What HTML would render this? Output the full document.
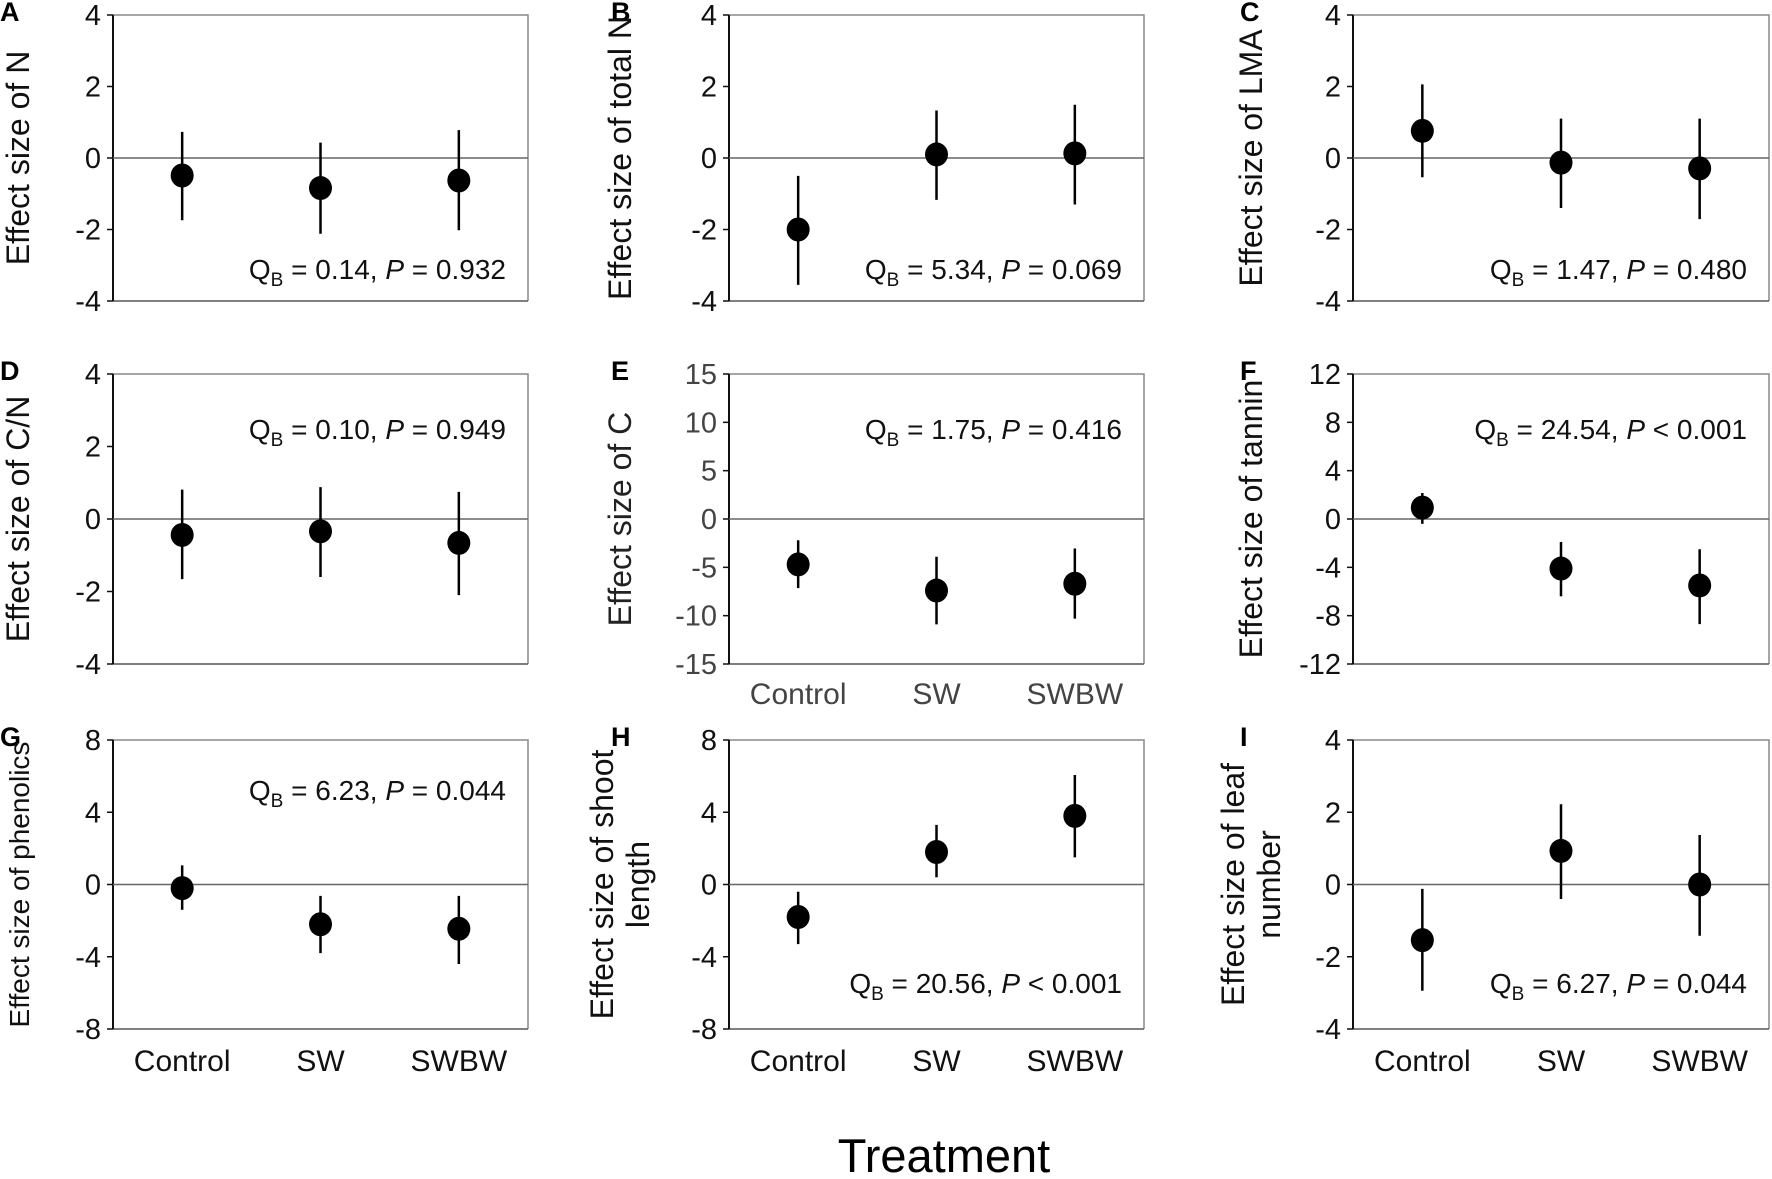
<!DOCTYPE html>
<html><head><meta charset="utf-8">
<style>
html,body{margin:0;padding:0;background:#fff;}
svg{display:block;font-family:"Liberation Sans",Arial,sans-serif;}
</style></head>
<body>
<svg id="fig" width="1772" height="1179" viewBox="0 0 1772 1179" xmlns="http://www.w3.org/2000/svg">
<text x="944" y="1172" font-size="47" text-anchor="middle">Treatment</text>
</svg>
<script>
const categories = ["Control","SW","SWBW"];
const panelIds = ["A","B","C","D","E","F","G","H","I"];
const titles = [["Effect size of N"],["Effect size of total N"],["Effect size of LMA"],["Effect size of C/N"],["Effect size of C"],["Effect size of tannin"],["Effect size of phenolics"],["Effect size of shoot","length"],["Effect size of leaf","number"]];
const tickSets = [[4,2,0,-2,-4],[4,2,0,-2,-4],[4,2,0,-2,-4],[4,2,0,-2,-4],[15,10,5,0,-5,-10,-15],[12,8,4,0,-4,-8,-12],[8,4,0,-4,-8],[8,4,0,-4,-8],[4,2,0,-2,-4]];
const means = [[-0.49,-0.84,-0.63],[-2.0,0.1,0.13],[0.76,-0.13,-0.29],[-0.44,-0.34,-0.66],[-4.7,-7.4,-6.7],[0.94,-4.1,-5.5],[-0.2,-2.2,-2.45],[-1.8,1.8,3.8],[-1.54,0.93,0.0]];
const upper = [[0.73,0.43,0.78],[-0.5,1.33,1.49],[2.06,1.1,1.1],[0.81,0.88,0.75],[-2.2,-3.9,-3.05],[2.15,-1.9,-2.5],[1.06,-0.63,-0.63],[-0.4,3.3,6.06],[-0.12,2.22,1.37]];
const lower = [[-1.74,-2.12,-2.02],[-3.55,-1.17,-1.3],[-0.54,-1.4,-1.71],[-1.66,-1.6,-2.1],[-7.15,-10.9,-10.3],[-0.4,-6.4,-8.7],[-1.4,-3.8,-4.4],[-3.3,0.4,1.5],[-2.94,-0.4,-1.42]];
const qbValues = ["0.14","5.34","1.47","0.10","1.75","24.54","6.23","20.56","6.27"];
const pValues = ["= 0.932","= 0.069","= 0.480","= 0.949","= 0.416","< 0.001","= 0.044","< 0.001","= 0.044"];

const NS="http://www.w3.org/2000/svg";
const svg=document.getElementById('fig');
const colX=[[113,528],[729,1144],[1353,1769]];
const rowY=[[15,301],[374,664],[740,1029]];
const titleX=[18,620,1251];
const letterX=[0,611,1240];
const annotYs=[279,279,279,439,439,439,800,993,993];
const titleSize=[32,32,32,32,32,32,28,32,32];
function mk(tag,attrs,parent){const e=document.createElementNS(NS,tag);for(const k in attrs)e.setAttribute(k,attrs[k]);(parent||svg).appendChild(e);return e;}

panelIds.forEach((id,p)=>{
  const r=Math.floor(p/3), c=p%3;
  const [x0,x1]=colX[c], [y0,y1]=rowY[r];
  const ticks=tickSets[p];
  const tmax=ticks[0], tmin=ticks[ticks.length-1];
  const yS=v=>y0+(tmax-v)/(tmax-tmin)*(y1-y0);
  const xS=i=>x0+(x1-x0)*(1+2*i)/6;
  const grey=(p===4);
  const g=mk('g',{});
  
  
  const lt=mk('text',{x:letterX[c],y:y0+6,'font-size':27,'font-weight':'bold'},g);
  lt.textContent=id;
  
  
  const fr=mk('path',{d:`M${x0},${y0}H${x1}V${y1}`,fill:'none',stroke:'#888','stroke-width':1.5},g);
  
  
  const bx=mk('line',{x1:x0,y1:y1,x2:x1,y2:y1,stroke:'#555','stroke-width':1.5},g);
  
  
  const ax=mk('line',{x1:x0,y1:y0,x2:x0,y2:y1,stroke:'#111','stroke-width':2},g);
  
  
  const zl=mk('line',{x1:x0,y1:yS(0),x2:x1,y2:yS(0),stroke:'#666','stroke-width':1.5},g);
  
  
  ticks.forEach(t=>{
    const tm=mk('line',{x1:x0-6,y1:yS(t),x2:x0,y2:yS(t),stroke:'#111','stroke-width':1.5},g);
    
    
    const tl=mk('text',{x:x0-12,y:yS(t)+10,'font-size':29,'text-anchor':'end',fill:grey?'#444':'#111'},g);
    tl.textContent=String(t);
    
    
  });
  const lines=titles[p];
  const cy=(y0+y1)/2;
  lines.forEach((ln,k)=>{
    const tx=titleX[c]+ (lines.length>1 ? (k===0?-18:18) : 0);
    const tt=mk('text',{x:tx,y:cy,'font-size':titleSize[p],'text-anchor':'middle',transform:`rotate(-90 ${tx} ${cy})`,dy:'11',fill:grey?'#222':'#111'},g);
    tt.textContent=ln;
    
    
  });
  categories.forEach((cat,i)=>{
    const eb=mk('line',{x1:xS(i),y1:yS(upper[p][i]),x2:xS(i),y2:yS(lower[p][i]),stroke:'#000','stroke-width':2.5},g);
    
    
    const pt=mk('ellipse',{cx:xS(i),cy:yS(means[p][i]),rx:11.5,ry:12,fill:'#000'},g);
    
    
    if(r===2||p===4){
      const cl=mk('text',{x:xS(i),y:(r===2?1071:704),'font-size':30,'text-anchor':'middle',fill:grey?'#444':'#111'},g);
      cl.textContent=cat;
      
      
    }
  });
  const an=mk('text',{x:x1-22,y:annotYs[p],'font-size':28,'text-anchor':'end',fill:'#111'},g);
  
  
  const s1=mk('tspan',{},an); s1.textContent='Q';
  const s2=mk('tspan',{'font-size':19,dy:7},an); s2.textContent='B';
  const s3=mk('tspan',{dy:-7},an); s3.textContent=' = '+qbValues[p]+', ';
  const s4=mk('tspan',{'font-style':'italic'},an); s4.textContent='P';
  const s5=mk('tspan',{},an); s5.textContent=' '+pValues[p];
});
</script>
</body></html>
